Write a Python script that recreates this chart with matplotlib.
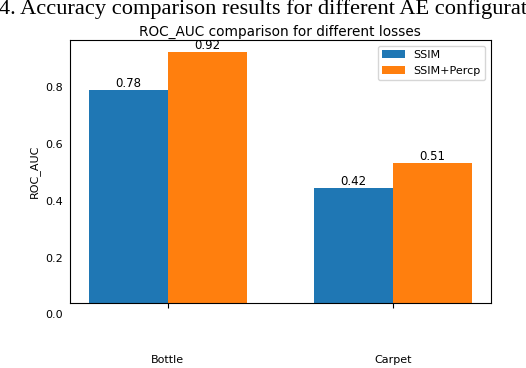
import numpy as np
import matplotlib
matplotlib.use("Agg")
import matplotlib.pyplot as plt

# Data
categories = ["Bottle", "Carpet"]
ssim = [0.79, 0.446]
ssim_percp = [0.923, 0.533]
ssim_text = ["0.78", "0.42"]
percp_text = ["0.92", "0.51"]
yticks = [0.2, 0.4, 0.6, 0.8]

x = np.arange(len(categories))
width = 0.35

fig = plt.figure(figsize=(5.26, 3.68), dpi=100)
ax = fig.add_axes([0.133, 0.177, 0.8, 0.714])

b1 = ax.bar(x - width / 2, ssim, width, label="SSIM", color="#1f77b4")
b2 = ax.bar(x + width / 2, ssim_percp, width, label="SSIM+Percp", color="#ff7f0e")

for bars, texts in [(b1, ssim_text), (b2, percp_text)]:
    for rect, t in zip(bars, texts):
        ax.annotate(t, (rect.get_x() + rect.get_width() / 2, rect.get_height()),
                    ha="center", va="bottom", fontsize=8.5)

ax.set_ylim(0.042, 0.965)
ax.set_yticks(yticks)
ax.set_yticklabels([f"{v:.1f}" for v in yticks])
# 0.0 label sits below the axes in the original
ax.text(-0.0168, 0.0, "0.0", transform=ax.get_yaxis_transform(), ha="right",
        va="center", fontsize=8, clip_on=False)
ax.tick_params(axis="y", length=0, pad=5, labelsize=8)
ax.set_xticks(x)
ax.set_xticklabels(categories)
ax.tick_params(axis="x", length=3.5, pad=34, labelsize=8)
ax.set_ylabel("ROC_AUC", fontsize=8)
ax.set_title("ROC_AUC comparison for different losses", fontsize=9.8, pad=3)
ax.legend(loc="upper right", fontsize=8)

# caption fragment cut off at the top of the crop
fig.text(-0.002, 1 - 14 / 368, "4. Accuracy comparison results for different AE configurations",
         family="Liberation Serif", fontsize=16.15, ha="left", va="baseline")

fig.savefig("out.png", dpi=100)
